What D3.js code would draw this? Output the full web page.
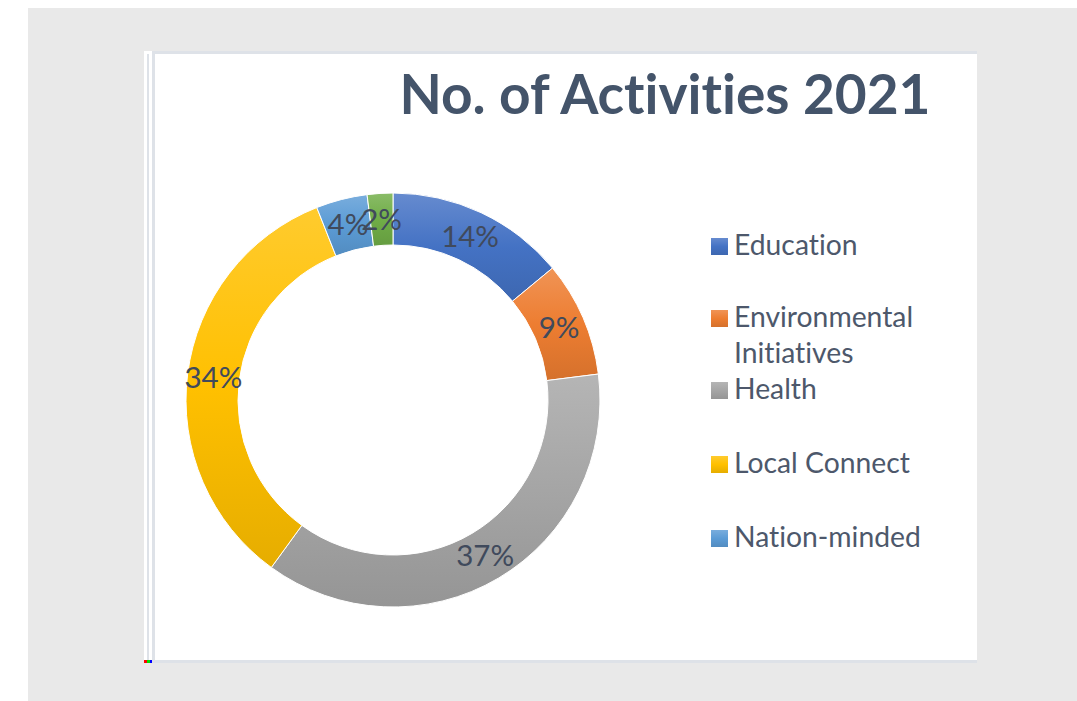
<!DOCTYPE html>
<html>
<head>
<meta charset="utf-8">
<script src="https://cdn.jsdelivr.net/npm/d3@7"></script>
<style>
  html, body { margin: 0; padding: 0; background: #ffffff; }
  svg { display: block; }
  text { font-variant-ligatures: none; font-feature-settings: "liga" 0, "clig" 0; }
</style>
</head>
<body>
<svg id="chart" width="1077" height="701"></svg>
<script>
// Share of activities per category, 2021 (percent)
const categories = ["Education", "Environmental Initiatives", "Health", "Local Connect", "Nation-minded", "Others"];
const values = [14, 9, 37, 34, 4, 2];
const colors = ["#4472C4", "#ED7D31", "#A5A5A5", "#FFC000", "#5B9BD5", "#70AD47"];
const legendCategories = categories.slice(0, 5);
const title = "No. of Activities 2021";

const svg = d3.select("#chart");
const W = 1077, H = 701;
const textColor = "#44546A";
const font = "Lato, 'Open Sans', sans-serif";

// outer frame
svg.append("rect").attr("x", 28).attr("y", 8).attr("width", W - 28).attr("height", H - 8).attr("fill", "#e9e9e9");

// chart panel with its thin borders
svg.append("rect").attr("x", 144).attr("y", 51).attr("width", 833).attr("height", 612).attr("fill", "#ffffff");
svg.append("rect").attr("x", 147).attr("y", 54).attr("width", 2).attr("height", 606).attr("fill", "#dee2e8");
svg.append("rect").attr("x", 152).attr("y", 51).attr("width", 825).attr("height", 3).attr("fill", "#dee2e8");
svg.append("rect").attr("x", 152).attr("y", 54).attr("width", 3).attr("height", 606).attr("fill", "#dee2e8");
svg.append("rect").attr("x", 152).attr("y", 660).attr("width", 825).attr("height", 3).attr("fill", "#dee2e8");
svg.append("rect").attr("x", 144).attr("y", 660).attr("width", 3).attr("height", 3).attr("fill", "#ff0000");
svg.append("rect").attr("x", 147).attr("y", 660).attr("width", 3).attr("height", 3).attr("fill", "#00e000");
svg.append("rect").attr("x", 150).attr("y", 660).attr("width", 2).attr("height", 3).attr("fill", "#0000ff");

// title
svg.append("text")
  .attr("x", 665).attr("y", 114)
  .attr("text-anchor", "middle")
  .attr("font-family", font).attr("font-weight", "bold")
  .attr("font-size", 55)
  .attr("fill", textColor)
  .text(title);

// per-slice vertical gradients: lighter at top, base in the middle, shaded at bottom
const defs = svg.append("defs");
colors.forEach((c, i) => {
  const g = defs.append("linearGradient").attr("id", "grad" + i)
    .attr("x1", 0).attr("y1", 0).attr("x2", 0).attr("y2", 1);
  g.append("stop").attr("offset", "0%").attr("stop-color", d3.interpolateRgb(c, "#ffffff")(0.18));
  g.append("stop").attr("offset", "50%").attr("stop-color", c);
  g.append("stop").attr("offset", "100%").attr("stop-color", d3.interpolateRgb(c, "#000000")(0.1));
});

// donut
const cx = 393, cy = 400, rOuter = 207, rInner = 155;
const pie = d3.pie().sort(null).value(d => d.value);
const arcs = pie(categories.map((name, i) => ({ name, value: values[i], i })));
const arc = d3.arc().innerRadius(rInner).outerRadius(rOuter);
const labelArc = d3.arc().innerRadius((rInner + rOuter) / 2).outerRadius((rInner + rOuter) / 2);

const g = svg.append("g").attr("transform", `translate(${cx},${cy})`);
g.selectAll("path.slice").data(arcs).join("path")
  .attr("class", "slice")
  .attr("d", arc)
  .attr("fill", d => `url(#grad${d.data.i})`)
  .attr("stroke", "#ffffff").attr("stroke-width", 1);

g.selectAll("text.pct").data(arcs).join("text")
  .attr("class", "pct")
  .attr("transform", d => `translate(${labelArc.centroid(d)})`)
  .attr("text-anchor", "middle")
  .attr("dy", "0.35em")
  .attr("font-family", font)
  .attr("font-size", 29.5)
  .attr("fill", "#404a5c")
  .text(d => d.data.value + "%");

// legend
const legendY = [246, 318, 390, 464, 538];
const legend = svg.append("g");
legendCategories.forEach((name, i) => {
  const y = legendY[i];
  legend.append("rect")
    .attr("x", 711).attr("y", y - 8).attr("width", 17).attr("height", 17)
    .attr("fill", `url(#grad${i})`);
  const t = legend.append("text")
    .attr("x", 734).attr("y", y + 9)
    .attr("font-family", font).attr("font-size", 28.3)
    .attr("fill", "#4d586b");
  const words = name === "Environmental Initiatives" ? ["Environmental", "Initiatives"] : [name];
  words.forEach((w, k) => {
    t.append("tspan").attr("x", 734).attr("dy", k === 0 ? 0 : 36).text(w);
  });
});
</script>
</body>
</html>
